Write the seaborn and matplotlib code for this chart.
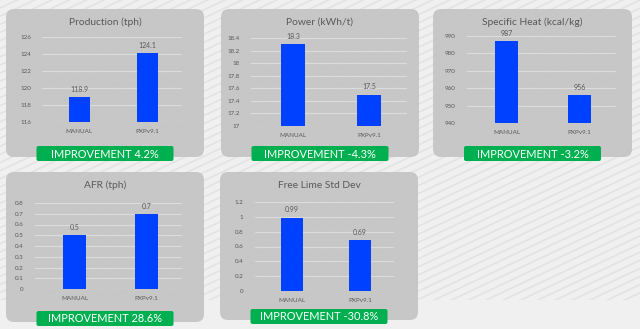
import numpy as np
import matplotlib
matplotlib.use("Agg")
import matplotlib.pyplot as plt
from matplotlib.patches import FancyBboxPatch, Rectangle
import seaborn as sns

# data
titles = ["Production (tph)", "Power (kWh/t)", "Specific Heat (kcal/kg)", "AFR (tph)", "Free Lime Std Dev"]
categories = ["MANUAL", "PXPv9.1"]
manual_vals = [118.9, 18.3, 987, 0.5, 0.99]
pxp_vals = [124.1, 17.5, 956, 0.7, 0.69]
improvement = [4.2, -4.3, -3.2, 28.6, -30.8]
y_ticks = [
    [116, 118, 120, 122, 124, 126],
    [17, 17.2, 17.4, 17.6, 17.8, 18, 18.2, 18.4],
    [940, 950, 960, 970, 980, 990],
    [0, 0.1, 0.2, 0.3, 0.4, 0.5, 0.6, 0.7, 0.8],
    [0, 0.2, 0.4, 0.6, 0.8, 1, 1.2],
]

# layout in pixels (left, top, right, bottom), top-down
W, H = 640, 329
panels = [(6, 9, 204, 157), (221, 9, 419, 157), (433, 9, 632, 157),
          (6, 172, 204, 322), (220, 172, 418, 320)]
axes_px = [(42, 37, 181.5, 122), (251, 38, 407, 126), (466.5, 36, 616, 123),
           (35, 203, 182, 289), (254.6, 202, 394, 291)]

BLUE = "#0040ff"
GREEN = "#00b050"
TXT = "#595959"

sns.set_theme(style="white")
plt.rcParams["font.family"] = ["Lato", "DejaVu Sans"]

fig = plt.figure(figsize=(W / 100, H / 100), dpi=100)
fig.patch.set_facecolor("#f0f0f0")

# decoration layer in pixel coordinates
deco = fig.add_axes([0, 0, 1, 1], zorder=0)
deco.set_xlim(0, W)
deco.set_ylim(H, 0)
deco.axis("off")

clip = Rectangle((0, 0), W, 300, transform=deco.transData)
slope = 0.47
for c in np.arange(0, W * slope + 300 + 20, 17.3 * slope):
    xs = np.array([0, W])
    ln, = deco.plot(xs, c - slope * xs, color="#e3e3e3", lw=1.2, solid_capstyle="butt")
    ln.set_clip_path(clip)


def to_fig(rect):
    l, t, r, b = rect
    return [l / W, 1 - b / H, (r - l) / W, (b - t) / H]


for i, title in enumerate(titles):
    pl, pt, pr, pb = panels[i]
    deco.add_patch(FancyBboxPatch((pl, pt), pr - pl, pb - pt,
                                  boxstyle="round,pad=0,rounding_size=8",
                                  fc="#c2c2c2", ec="none", alpha=0.88, zorder=2))
    cx = (pl + pr) / 2
    deco.text(cx, pt + 13.5, title, ha="center", va="center", fontsize=7.4, color=TXT, zorder=3)

    # green improvement tag
    gy = pb - 11
    deco.add_patch(FancyBboxPatch((cx - 68.5, gy), 137, 15,
                                  boxstyle="round,pad=0,rounding_size=2",
                                  fc=GREEN, ec="none", zorder=4))
    deco.text(cx, gy + 8, f"IMPROVEMENT {improvement[i]}%", ha="center", va="center",
              fontsize=7.9, color="white", zorder=5)

    ax = fig.add_axes(to_fig(axes_px[i]), zorder=2)
    ax.set_facecolor("none")
    vals = [manual_vals[i], pxp_vals[i]]
    sns.barplot(x=categories, y=vals, color=BLUE, saturation=1, width=0.32,
                linewidth=0, edgecolor="none", ax=ax, zorder=3)
    ax.bar_label(ax.containers[0], labels=[f"{v:g}" for v in vals],
                 padding=3, fontsize=5, color=TXT)
    ticks = y_ticks[i]
    ax.set_ylim(ticks[0], ticks[-1])
    ax.set_yticks(ticks)
    ax.set_yticklabels([f"{round(t, 2):g}" for t in ticks])
    ax.set_xlim(-0.55, 1.5)
    ax.yaxis.grid(True, color="#dcdcdc", lw=0.8)
    ax.set_axisbelow(True)
    for s in ax.spines.values():
        s.set_visible(False)
    ax.tick_params(axis="both", length=0, labelsize=4.5, labelcolor=TXT)
    ax.tick_params(axis="y", pad=8)
    ax.tick_params(axis="x", pad=5)
    ax.set_xlabel("")
    ax.set_ylabel("")

fig.savefig("out.png", dpi=100, facecolor=fig.get_facecolor())
